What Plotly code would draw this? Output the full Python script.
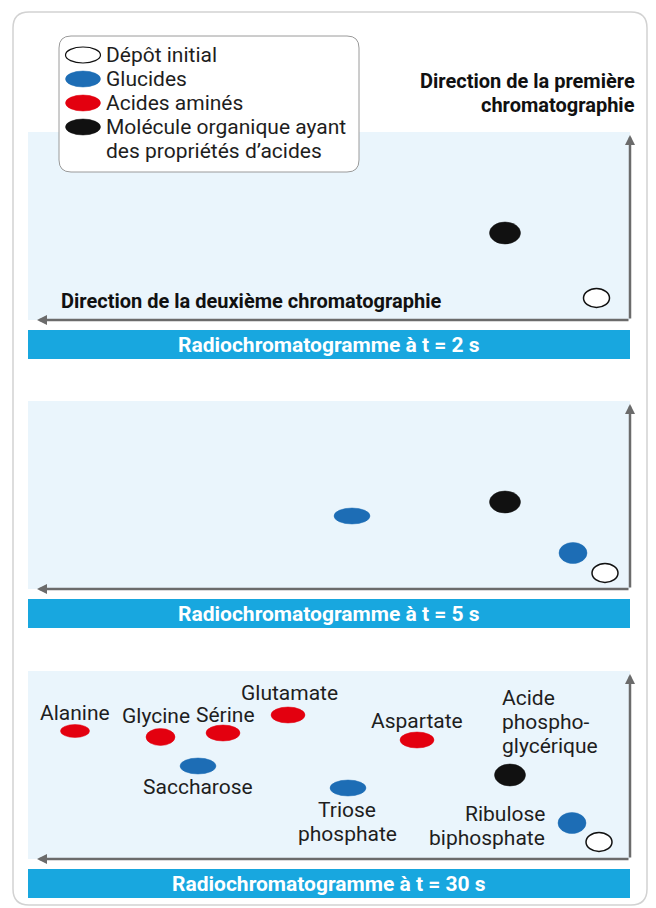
import plotly.graph_objects as go

# ---------------- data ----------------
TIMES = ["2 s", "5 s", "30 s"]

# distances (cm) from the initial deposit corner:
# d2 = along the 2nd chromatography (leftwards), d1 = along the 1st (upwards)
p1_names = ["Molécule organique", "Dépôt initial"]
p1_class = ["acide", "depot"]
p1_d2 = [12.5, 3.35]
p1_d1 = [8.7, 2.2]

p2_names = ["Glucide A", "Molécule organique", "Glucide B", "Dépôt initial"]
p2_class = ["glucide", "acide", "glucide", "depot"]
p2_d2 = [27.8, 12.5, 5.7, 2.5]
p2_d1 = [7.3, 8.7, 3.6, 1.6]

p3_names = ["Alanine", "Glycine", "Sérine", "Glutamate", "Aspartate",
            "Saccharose", "Triose phosphate", "Acide phosphoglycérique",
            "Ribulose biphosphate", "Dépôt initial"]
p3_class = ["amine", "amine", "amine", "amine", "amine",
            "glucide", "glucide", "acide", "glucide", "depot"]
p3_d2 = [55.5, 46.95, 40.7, 34.2, 21.3, 43.2, 28.2, 12.0, 5.8, 3.1]
p3_d1 = [12.8, 12.2, 12.6, 14.4, 11.9, 9.3, 7.1, 8.4, 3.6, 1.7]
p3_labels = ["Alanine", "Glycine", "Sérine", "Glutamate", "Aspartate",
             "Saccharose", "Triose<br>phosphate", "Acide<br>phospho-<br>glycérique",
             "Ribulose<br>biphosphate", ""]

LEGEND_CLASSES = ["depot", "glucide", "amine", "acide"]
LEGEND_LABELS = ["Dépôt initial", "Glucides", "Acides aminés",
                 "Molécule organique ayant<br>des propriétés d’acides"]

TITLE_1 = "Direction de la première<br>chromatographie"
TITLE_2 = "Direction de la deuxième chromatographie"

# ---------------- style ----------------
W, H = 656, 908
FONT = "Roboto, sans-serif"
TXT = 21
LINE_H = 24
FILL = {"depot": "white", "glucide": "#1d6db5", "amine": "#e3000f", "acide": "#111111"}
LINE = {"depot": "#111111", "glucide": "#1d6db5", "amine": "#e3000f", "acide": "#111111"}
SIZE = {"depot": (26, 19), "glucide": (36, 16), "amine": (34, 16), "acide": (31, 22)}
SIZE_OVERRIDE = {"Glucide B": (28, 21), "Ribulose biphosphate": (28, 21),
                 "Alanine": (29, 13), "Glycine": (29, 17)}
LABEL_POS = {  # xshift, yshift(center), xanchor
    "Alanine": (0, 18, "center"),
    "Glycine": (-5, 21, "center"),
    "Sérine": (2, 18, "center"),
    "Glutamate": (1, 22, "center"),
    "Aspartate": (0, 19, "center"),
    "Saccharose": (0, -21, "center"),
    "Triose phosphate": (-1, -33.5, "center"),
    "Acide phosphoglycérique": (-10, 53, "left"),
    "Ribulose biphosphate": (-25, -2.5, "right"),
}
PX = 10.0            # pixels per cm
LEFT, RIGHT = 28, 630
PANEL_BOTTOM = [320, 589, 859]
PANEL_H = 188
BG = "#eaf5fc"
BAR = "#18a7df"
ARROW = "#6b6b6b"

def py(v):
    return 1 - v / H

def px_(v):
    return v / W

fig = go.Figure()

def add_lines(text, x, y, xref, yref, xshift, yshift, xanchor, font):
    lines = text.split("<br>")
    n = len(lines)
    for j, ln in enumerate(lines):
        fig.add_annotation(x=x, y=y, xref=xref, yref=yref, text=ln, showarrow=False,
                           xshift=xshift, yshift=yshift + ((n - 1) / 2 - j) * LINE_H,
                           xanchor=xanchor, yanchor="middle", align=xanchor, font=font)

panels = [(p1_names, p1_class, p1_d2, p1_d1, None),
          (p2_names, p2_class, p2_d2, p2_d1, None),
          (p3_names, p3_class, p3_d2, p3_d1, p3_labels)]

for i, (names, classes, d2, d1, labels) in enumerate(panels):
    k = "" if i == 0 else str(i + 1)
    xr, yr = "x" + k, "y" + k
    bottom = PANEL_BOTTOM[i]
    top = bottom - PANEL_H
    fig.update_layout(**{
        "xaxis" + k: dict(domain=[px_(LEFT), px_(RIGHT)],
                          range=[(RIGHT - LEFT) / PX, 0], visible=False,
                          fixedrange=True, anchor=yr),
        "yaxis" + k: dict(domain=[py(bottom), py(top)],
                          range=[0, PANEL_H / PX], visible=False,
                          fixedrange=True, anchor=xr),
    })
    # panel background
    fig.add_shape(type="rect", xref=xr + " domain", yref=yr + " domain",
                  x0=0, x1=1, y0=0, y1=1, fillcolor=BG, line_width=0, layer="below")
    # invisible hover trace
    fig.add_trace(go.Scatter(x=d2, y=d1, mode="markers", xaxis=xr, yaxis=yr,
                             marker=dict(size=14, opacity=0), text=names,
                             hoverinfo="text", showlegend=False))
    # spots
    for n, c, x, y in zip(names, classes, d2, d1):
        w, h = SIZE_OVERRIDE.get(n, SIZE[c])
        fig.add_shape(type="circle", xref=xr, yref=yr,
                      x0=x - w / 2 / PX, x1=x + w / 2 / PX,
                      y0=y - h / 2 / PX, y1=y + h / 2 / PX,
                      fillcolor=FILL[c], line=dict(color=LINE[c], width=1.5 if c == "depot" else 0.5))
    # labels
    if labels:
        for n, lab, x, y in zip(names, labels, d2, d1):
            if not lab:
                continue
            xs, ys, xa = LABEL_POS[n]
            add_lines(lab, x, y, xr, yr, xs, ys, xa,
                      dict(family=FONT, size=TXT, color="#1e1e1e"))
    # axes arrows
    fig.add_annotation(x=(RIGHT - 37) / PX, y=0, ax=0, ay=0, xref=xr, yref=yr,
                       axref=xr, ayref=yr, text="", showarrow=True, arrowhead=2,
                       arrowsize=0.8, arrowwidth=2.5, arrowcolor=ARROW, standoff=0)
    fig.add_annotation(x=0, y=18.5, ax=0, ay=0, xref=xr, yref=yr,
                       axref=xr, ayref=yr, text="", showarrow=True, arrowhead=2,
                       arrowsize=0.8, arrowwidth=2.5, arrowcolor=ARROW, standoff=0)
    # title bar
    fig.add_shape(type="rect", xref="paper", yref="paper",
                  x0=px_(LEFT), x1=px_(RIGHT), y0=py(bottom + 39), y1=py(bottom + 10),
                  fillcolor=BAR, line_width=0)
    fig.add_annotation(xref="paper", yref="paper", x=px_((LEFT + RIGHT) / 2),
                       y=py(bottom + 24.5), text="Radiochromatogramme à t = " + TIMES[i],
                       showarrow=False, xanchor="center", yanchor="middle",
                       font=dict(family=FONT, size=21, color="white", weight="bold"))

# outer rounded frame
def rrect(x0, y0, x1, y1, r):
    X0, X1 = px_(x0), px_(x1)
    Y0, Y1 = py(y0), py(y1)
    rx, ry = r / W, r / H
    return (f"M{X0+rx},{Y0} L{X1-rx},{Y0} Q{X1},{Y0} {X1},{Y0-ry} "
            f"L{X1},{Y1+ry} Q{X1},{Y1} {X1-rx},{Y1} L{X0+rx},{Y1} "
            f"Q{X0},{Y1} {X0},{Y1+ry} L{X0},{Y0-ry} Q{X0},{Y0} {X0+rx},{Y0} Z")

fig.add_shape(type="path", xref="paper", yref="paper", path=rrect(13, 12, 647, 905, 16),
              line=dict(color="#d2d2d2", width=1.5), fillcolor="rgba(0,0,0,0)", layer="below")

# legend
fig.add_shape(type="path", xref="paper", yref="paper", path=rrect(59, 36, 359, 172, 12),
              line=dict(color="#9a9a9a", width=1), fillcolor="white")
leg_rows = [55, 79, 103, 127]
for c, lab, yrow in zip(LEGEND_CLASSES, LEGEND_LABELS, leg_rows):
    w, h = 35, 16
    fig.add_shape(type="circle", xref="paper", yref="paper",
                  x0=px_(83 - w / 2), x1=px_(83 + w / 2), y0=py(yrow + h / 2), y1=py(yrow - h / 2),
                  fillcolor=FILL[c], line=dict(color=LINE[c], width=1.2 if c == "depot" else 0.5))
    nlines = lab.count("<br>") + 1
    add_lines(lab, px_(104), py(yrow + (nlines - 1) * LINE_H / 2), "paper", "paper",
              0, 0, "left", dict(family=FONT, size=TXT, color="#1e1e1e"))

# direction titles
add_lines(TITLE_1, px_(637), py(93), "paper", "paper", 0, 0, "right",
          dict(family=FONT, size=20, color="#111111", weight="bold"))
add_lines(TITLE_2, px_(59), py(301), "paper", "paper", 0, 0, "left",
          dict(family=FONT, size=20, color="#111111", weight="bold"))

fig.update_layout(width=W, height=H, margin=dict(l=0, r=0, t=0, b=0),
                  paper_bgcolor="white", plot_bgcolor="rgba(0,0,0,0)",
                  showlegend=False, hovermode="closest")

fig.write_html("out.html", config={"displayModeBar": False},
               post_script="document.body.style.margin='0';document.body.style.overflow='hidden';")
